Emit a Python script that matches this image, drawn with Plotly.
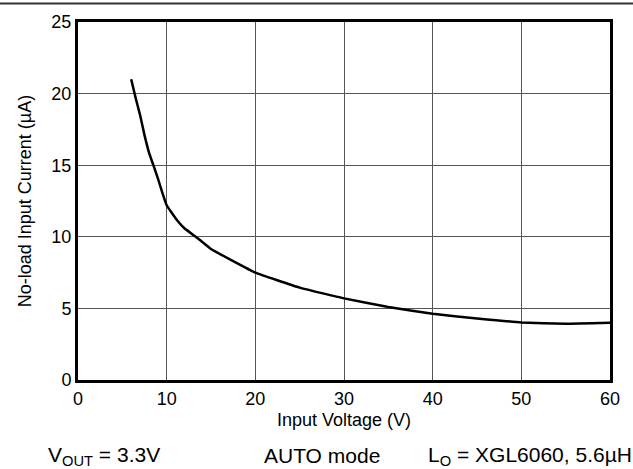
import plotly.graph_objects as go

voltage = [6, 6.5, 7, 7.5, 8, 8.5, 9, 9.5, 10, 11, 12, 13.5, 15, 17.5, 20, 25, 30, 35, 40, 45, 50, 55, 60]
current = [21.0, 19.7, 18.5, 17.1, 15.9, 15.0, 14.1, 13.1, 12.2, 11.3, 10.6, 9.9, 9.15, 8.3, 7.5, 6.45, 5.7, 5.1, 4.62, 4.3, 4.02, 3.93, 4.0]

x_ticks = [0, 10, 20, 30, 40, 50, 60]
y_ticks = [0, 5, 10, 15, 20, 25]

FONT = "Liberation Sans, Arial, sans-serif"

fig = go.Figure()
fig.add_trace(go.Scatter(x=voltage, y=current, mode="lines",
                         line=dict(color="black", width=2.5, shape="spline", smoothing=0.3),
                         showlegend=False, hoverinfo="skip"))

fig.update_layout(
    width=633, height=469,
    margin=dict(l=78, r=23, t=20, b=89),
    paper_bgcolor="white", plot_bgcolor="white",
    font=dict(family=FONT, size=18, color="black"),
    xaxis=dict(range=[0, 60], tickvals=x_ticks, showgrid=True, gridcolor="#555", gridwidth=1,
               showline=True, linecolor="black", linewidth=3, mirror=True, ticks="",
               zeroline=False, tickfont=dict(size=18),
               title=dict(text="Input Voltage (V)", font=dict(size=18), standoff=6)),
    yaxis=dict(range=[0, 25], tickvals=y_ticks, showgrid=True, gridcolor="#555", gridwidth=1,
               showline=True, linecolor="black", linewidth=3, mirror=True, ticks="",
               zeroline=False, tickfont=dict(size=18),
               title=dict(text="No-load Input Current (µA)", font=dict(size=18), standoff=16)),
    shapes=[dict(type="line", xref="paper", yref="paper", x0=-0.2, x1=1.2,
                 y0=1.052, y1=1.052, line=dict(color="#333", width=2))],
    annotations=[
        dict(text="V<sub>OUT</sub> = 3.3V", xref="paper", yref="paper", x=-0.06, y=-0.212,
             xanchor="left", yanchor="middle", showarrow=False, font=dict(size=21)),
        dict(text="AUTO mode", xref="paper", yref="paper", x=0.345, y=-0.212,
             xanchor="left", yanchor="middle", showarrow=False, font=dict(size=21)),
        dict(text="L<sub>O</sub> = XGL6060, 5.6µH", xref="paper", yref="paper", x=0.654, y=-0.212,
             xanchor="left", yanchor="middle", showarrow=False, font=dict(size=21)),
    ],
)

fig.write_html("out.html", config={"displayModeBar": False},
               post_script="document.body.style.margin='0';document.body.style.overflow='hidden';")
